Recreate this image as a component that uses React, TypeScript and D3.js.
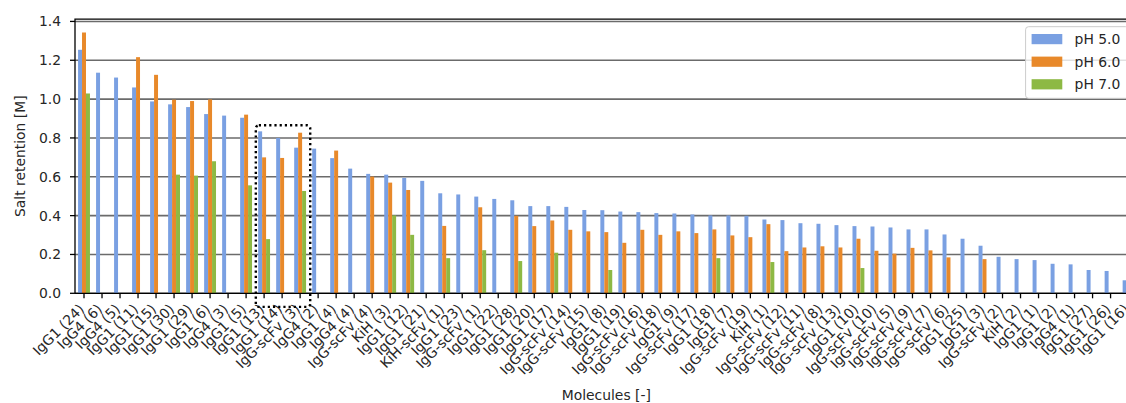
import React, {useEffect, useRef} from 'react'
import * as d3 from 'd3';

// molecules in the order shown on the x axis
const molecules = [
    'IgG1 (24)', 'IgG4 (6)', 'IgG4 (5)', 'IgG1 (11)', 'IgG1 (15)', 'IgG1 (30)', 'IgG1 (29)', 'IgG1 (6)',
    'IgG4 (3)', 'IgG1 (5)', 'IgG1 (13)', 'IgG1 (14)', 'IgG-scFv (3)', 'IgG4 (2)', 'IgG1 (4)', 'IgG4 (4)',
    'IgG-scFv (4)', 'KiH (3)', 'IgG1 (12)', 'IgG1 (21)', 'KiH-scFv (1)', 'IgG1 (23)', 'IgG-scFv (1)',
    'IgG1 (22)', 'IgG1 (28)', 'IgG1 (20)', 'IgG1 (17)', 'IgG-scFv (14)', 'IgG-scFv (15)', 'IgG1 (8)',
    'IgG1 (19)', 'IgG-scFv (16)', 'IgG-scFv (18)', 'IgG1 (9)', 'IgG-scFv (17)', 'IgG1 (18)', 'IgG1 (7)',
    'IgG-scFv (19)', 'KiH (1)', 'IgG-scFv (12)', 'IgG-scFv (11)', 'IgG-scFv (8)', 'IgG-scFv (13)',
    'IgG1 (10)', 'IgG-scFv (10)', 'IgG-scFv (5)', 'IgG-scFv (9)', 'IgG-scFv (7)', 'IgG-scFv (6)',
    'IgG1 (25)', 'IgG1 (3)', 'IgG-scFv (2)', 'KiH (2)', 'IgG1 (1)', 'IgG1 (2)', 'IgG4 (1)', 'IgG1 (27)',
    'IgG1 (26)', 'IgG1 (16)'
];

// salt retention [M], null = not measured
const ph5 = [
    1.254, 1.136, 1.111, 1.060, 0.988, 0.973, 0.959, 0.923, 0.915, 0.904, 0.834, 0.800, 0.750, 0.745,
    0.696, 0.642, 0.615, 0.611, 0.594, 0.579, 0.515, 0.509, 0.498, 0.486, 0.479, 0.449, 0.449, 0.445,
    0.429, 0.428, 0.421, 0.418, 0.413, 0.411, 0.406, 0.401, 0.401, 0.399, 0.380, 0.377, 0.361, 0.358,
    0.351, 0.346, 0.344, 0.339, 0.329, 0.329, 0.303, 0.281, 0.245, 0.188, 0.176, 0.171, 0.152, 0.149,
    0.120, 0.115, 0.067
];
const ph6 = [
    1.343, null, null, 1.216, 1.125, 0.997, 0.990, 0.998, null, 0.920, 0.700, 0.697, 0.827, null,
    0.735, null, 0.601, 0.570, 0.532, null, 0.347, null, 0.443, null, 0.399, 0.346, 0.375, 0.327,
    0.319, 0.315, 0.260, 0.327, 0.301, 0.319, 0.310, 0.329, 0.298, 0.289, 0.356, 0.217, 0.236, 0.242,
    0.236, 0.281, 0.219, 0.204, 0.234, 0.221, 0.185, null, 0.176, null, null, null, null, null,
    null, null, null
];
const ph7 = [
    1.029, null, null, null, null, 0.611, 0.606, 0.680, null, 0.556, 0.279, null, 0.527, null,
    null, null, null, 0.401, 0.301, null, 0.181, null, 0.222, null, 0.166, null, 0.209, null,
    null, 0.120, null, null, null, null, null, 0.181, null, null, 0.161, null, null, null,
    null, 0.130, null, null, null, null, null, null, null, null, null, null, null, null,
    null, null, null
];

const seriesNames = ['pH 5.0', 'pH 6.0', 'pH 7.0'];
const seriesColors = ['#7aa0e2', '#e8892a', '#8db944'];
const yTicks = [0, 0.2, 0.4, 0.6, 0.8, 1.0, 1.2, 1.4];

export default function App(){
    const svgRef = useRef(null);

    const width = 1170;
    const height = 403;
    const font = 'DejaVu Sans, sans-serif';

    useEffect(() => {
        const svg = d3.select(svgRef.current);
        svg.selectAll('*').remove();

        const series = [ph5, ph6, ph7];
        const n = molecules.length;

        const x = d3.scaleBand()
            .domain(d3.range(n))
            .range([75, 75 + n * 18.01]);

        const xSub = d3.scaleBand()
            .domain(d3.range(3))
            .range([x.bandwidth() * 0.17, x.bandwidth() * 0.83]);

        const y = d3.scaleLinear()
            .domain([0, 1.412])
            .range([293.3, 19.1]);

        const [x0, x1] = x.range();

        // grid below the bars
        svg.append('g')
            .selectAll('line')
            .data(yTicks)
            .join('line')
            .attr('x1', x0).attr('x2', x1)
            .attr('y1', d => y(d)).attr('y2', d => y(d))
            .attr('stroke', '#6b6b6b')
            .attr('stroke-width', 1.6);

        // bars
        series.forEach((vals, s) => {
            svg.append('g')
                .selectAll('rect')
                .data(vals.map((v, i) => ({v, i})).filter(d => d.v != null))
                .join('rect')
                .attr('x', d => x(d.i) + xSub(s))
                .attr('width', xSub.bandwidth())
                .attr('y', d => y(d.v))
                .attr('height', d => y(0) - y(d.v))
                .attr('fill', seriesColors[s]);
        });

        // spines
        svg.append('path')
            .attr('d', `M${x0},${y(0)}V${y.range()[1]}H${x1}`)
            .attr('fill', 'none')
            .attr('stroke', 'black')
            .attr('stroke-width', 1.3);
        svg.append('line')
            .attr('x1', x0).attr('x2', x1)
            .attr('y1', y(0)).attr('y2', y(0))
            .attr('stroke', 'black')
            .attr('stroke-width', 1.3);

        // y axis ticks + labels
        const yAxis = svg.append('g');
        yAxis.selectAll('line')
            .data(yTicks)
            .join('line')
            .attr('x1', x0 - 5).attr('x2', x0)
            .attr('y1', d => y(d)).attr('y2', d => y(d))
            .attr('stroke', 'black')
            .attr('stroke-width', 1.3);
        yAxis.selectAll('text')
            .data(yTicks)
            .join('text')
            .attr('x', x0 - 14)
            .attr('y', d => y(d) + 5)
            .attr('text-anchor', 'end')
            .attr('font-family', font)
            .attr('font-size', 13.9)
            .attr('fill', '#262626')
            .text(d => d3.format('.1f')(d));

        // x axis ticks + rotated labels
        const xAxis = svg.append('g');
        xAxis.selectAll('line')
            .data(d3.range(n))
            .join('line')
            .attr('x1', i => x(i) + x.bandwidth() / 2)
            .attr('x2', i => x(i) + x.bandwidth() / 2)
            .attr('y1', y(0)).attr('y2', y(0) + 5)
            .attr('stroke', 'black')
            .attr('stroke-width', 1.3);
        xAxis.selectAll('text')
            .data(d3.range(n))
            .join('text')
            .attr('transform', i => `translate(${x(i) + x.bandwidth() / 2 + 1},${310}) rotate(-45)`)
            .attr('text-anchor', 'end')
            .attr('font-family', font)
            .attr('font-size', 13.9)
            .attr('fill', '#262626')
            .text(i => molecules[i]);

        // axis titles
        svg.append('text')
            .attr('transform', `translate(25,${(y(0) + y.range()[1]) / 2}) rotate(-90)`)
            .attr('text-anchor', 'middle')
            .attr('font-family', font)
            .attr('font-size', 13.9)
            .attr('fill', '#262626')
            .text('Salt retention [M]');
        svg.append('text')
            .attr('x', (x0 + x1) / 2)
            .attr('y', 400)
            .attr('text-anchor', 'middle')
            .attr('font-family', font)
            .attr('font-size', 13.9)
            .attr('fill', '#262626')
            .text('Molecules [-]');

        // dotted highlight around IgG1 (13) .. IgG-scFv (3)
        const step = x.step();
        const bx0 = x(10) + x.bandwidth() / 2 - 0.46 * step;
        const bx1 = x(12) + x.bandwidth() / 2 + 0.56 * step;
        svg.append('rect')
            .attr('x', bx0)
            .attr('y', y(0.865))
            .attr('width', bx1 - bx0)
            .attr('height', y(-0.07) - y(0.865))
            .attr('rx', 3)
            .attr('fill', 'none')
            .attr('stroke', 'black')
            .attr('stroke-width', 2.4)
            .attr('stroke-dasharray', '2.2,3');

        // legend
        const legend = svg.append('g').attr('transform', `translate(${x1 - 112},26.7)`);
        legend.append('rect')
            .attr('width', 103)
            .attr('height', 71.6)
            .attr('rx', 3)
            .attr('fill', 'white')
            .attr('fill-opacity', 0.8)
            .attr('stroke', '#cccccc')
            .attr('stroke-width', 1);
        seriesNames.forEach((name, s) => {
            legend.append('rect')
                .attr('x', 6)
                .attr('y', 7.3 + s * 22.6)
                .attr('width', 30.7)
                .attr('height', 10.2)
                .attr('fill', seriesColors[s]);
            legend.append('text')
                .attr('x', 49)
                .attr('y', 17.4 + s * 22.6)
                .attr('font-family', font)
                .attr('font-size', 13.9)
                .attr('fill', '#262626')
                .text(name);
        });
    });

    return (
        <div style={{position: 'fixed', left: 0, top: 0, width: 1126, height: 403, overflow: 'hidden', background: 'white'}}>
            <svg
                ref={svgRef}
                width={width}
                height={height}
                style={{display: 'block'}}
            >
            </svg>
        </div>
    );
}
